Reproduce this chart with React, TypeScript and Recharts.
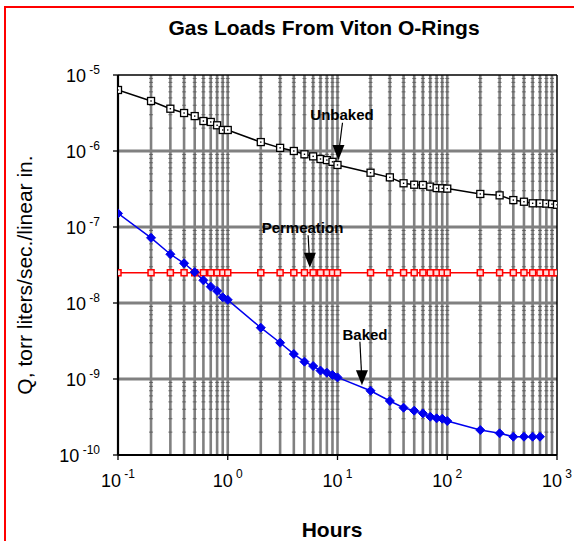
import { LineChart, Line, XAxis, YAxis, ReferenceLine, ReferenceDot } from 'recharts';

const hours = [
  0.1, 0.2, 0.3, 0.4, 0.5, 0.6, 0.7, 0.8, 0.9,
  1, 2, 3, 4, 5, 6, 7, 8, 9,
  10, 20, 30, 40, 50, 60, 70, 80, 90,
  100, 200, 300, 400, 500, 600, 700, 800, 900, 1000,
];

const unbaked = [
  6.35e-6, 4.55e-6, 3.6e-6, 3.16e-6, 2.88e-6, 2.48e-6, 2.41e-6, 2.18e-6, 1.89e-6,
  1.89e-6, 1.31e-6, 1.1e-6, 1.0e-6, 9.05e-7, 8.5e-7, 7.85e-7, 7.6e-7, 7.2e-7,
  6.55e-7, 5.18e-7, 4.5e-7, 3.76e-7, 3.6e-7, 3.57e-7, 3.4e-7, 3.25e-7, 3.23e-7,
  3.2e-7, 2.72e-7, 2.61e-7, 2.26e-7, 2.15e-7, 2.05e-7, 2.05e-7, 2.03e-7, 2.0e-7, 1.96e-7,
];

const permeation = [
  2.5e-8, 2.5e-8, 2.5e-8, 2.5e-8, 2.5e-8, 2.5e-8, 2.5e-8, 2.5e-8, 2.5e-8,
  2.5e-8, 2.5e-8, 2.5e-8, 2.5e-8, 2.5e-8, 2.5e-8, 2.5e-8, 2.5e-8, 2.5e-8,
  2.5e-8, 2.5e-8, 2.5e-8, 2.5e-8, 2.5e-8, 2.5e-8, 2.5e-8, 2.5e-8, 2.5e-8,
  2.5e-8, 2.5e-8, 2.5e-8, 2.5e-8, 2.5e-8, 2.5e-8, 2.5e-8, 2.5e-8, 2.5e-8, 2.5e-8,
];

// baked run stops at 700 h
const baked = [
  1.51e-7, 7.2e-8, 4.38e-8, 3.33e-8, 2.55e-8, 1.99e-8, 1.64e-8, 1.44e-8, 1.19e-8,
  1.1e-8, 4.73e-9, 3.0e-9, 2.13e-9, 1.69e-9, 1.48e-9, 1.29e-9, 1.21e-9, 1.13e-9,
  1.05e-9, 7.0e-10, 5.14e-10, 4.19e-10, 3.83e-10, 3.53e-10, 3.19e-10, 3.04e-10, 3.0e-10,
  2.8e-10, 2.13e-10, 1.93e-10, 1.74e-10, 1.74e-10, 1.74e-10, 1.74e-10,
];

const xTicks = [0.1, 1, 10, 100, 1000];
const yTicks = [1e-10, 1e-9, 1e-8, 1e-7, 1e-6, 1e-5];
const xGrid = [
  0.2, 0.3, 0.4, 0.5, 0.6, 0.7, 0.8, 0.9, 1,
  2, 3, 4, 5, 6, 7, 8, 9, 10,
  20, 30, 40, 50, 60, 70, 80, 90, 100,
  200, 300, 400, 500, 600, 700, 800, 900,
];
const yGrid = [1e-9, 1e-8, 1e-7, 1e-6];
const yMinor = [
  2e-10, 3e-10, 4e-10, 5e-10, 6e-10, 7e-10, 8e-10, 9e-10,
  2e-9, 3e-9, 4e-9, 5e-9, 6e-9, 7e-9, 8e-9, 9e-9,
  2e-8, 3e-8, 4e-8, 5e-8, 6e-8, 7e-8, 8e-8, 9e-8,
  2e-7, 3e-7, 4e-7, 5e-7, 6e-7, 7e-7, 8e-7, 9e-7,
  2e-6, 3e-6, 4e-6, 5e-6, 6e-6, 7e-6, 8e-6, 9e-6,
];

const data = hours.map((h, i) => ({
  h,
  unbaked: unbaked[i],
  permeation: permeation[i],
  baked: i < baked.length ? baked[i] : null,
}));

const FONT = 'Arial, "Liberation Sans", sans-serif';

const expOf = (v: number) => Math.round(Math.log10(v));

const XTick = (props: any) => {
  const { x, y, payload } = props;
  return (
    <text x={x} y={y + 25} textAnchor="middle" fontFamily={FONT} fontSize={18} fill="#000">
      <tspan>10</tspan>
      <tspan dy={-9} fontSize={12}>{' ' + expOf(payload.value)}</tspan>
    </text>
  );
};

const YTick = (props: any) => {
  const { x, y, payload } = props;
  return (
    <text x={x - 11} y={y + 7} textAnchor="end" fontFamily={FONT} fontSize={18} fill="#000">
      <tspan>10</tspan>
      <tspan dy={-8} fontSize={12}>{' ' + expOf(payload.value)}</tspan>
    </text>
  );
};

const squareDot = (props: any) => {
  const { cx, cy, index } = props;
  if (cx == null || cy == null) return <g key={`u${index}`} />;
  return (
    <g key={`u${index}`}>
      <rect x={cx - 3.5} y={cy - 3.5} width={7} height={7} fill="#fff" stroke="#000" strokeWidth={1.3} />
      <rect x={cx - 0.7} y={cy - 0.7} width={1.4} height={1.4} fill="#000" />
    </g>
  );
};

const redDot = (props: any) => {
  const { cx, cy, index } = props;
  if (cx == null || cy == null) return <g key={`p${index}`} />;
  return (
    <rect key={`p${index}`} x={cx - 3} y={cy - 3} width={6} height={6} fill="#ffdada" stroke="#ff0000" strokeWidth={1.5} />
  );
};

const diamondDot = (props: any) => {
  const { cx, cy, index } = props;
  if (cx == null || cy == null) return <g key={`b${index}`} />;
  return (
    <polygon
      key={`b${index}`}
      points={`${cx},${cy - 4.5} ${cx + 4.5},${cy} ${cx},${cy + 4.5} ${cx - 4.5},${cy}`}
      fill="#0000ee"
      stroke="#0000ee"
    />
  );
};

const minorDash = (p: any) => (
  <line x1={p.cx - 2} y1={p.cy} x2={p.cx + 2} y2={p.cy} stroke="#555" strokeWidth={0.8} />
);

const noteText = (label: string) => (p: any) => (
  <text x={p.cx} y={p.cy + 5} textAnchor="middle" fontFamily={FONT} fontSize={15} fontWeight="bold" fill="#000">
    {label}
  </text>
);

const arrowHead = (p: any) => (
  <polygon points={`${p.cx},${p.cy} ${p.cx - 6},${p.cy - 15} ${p.cx + 6},${p.cy - 15}`} fill="#000" />
);

export default function App() {
  return (
    <div style={{ position: 'absolute', left: 0, top: 0, width: 574, height: 541, background: '#fff', overflow: 'hidden' }}>
      <div
        style={{
          position: 'absolute', left: 4, top: 6, width: 700, height: 700,
          borderTop: '2px solid #ff0000', borderLeft: '2px solid #ff0000',
        }}
      />
      <div
        style={{
          position: 'absolute', left: 0, width: 648, top: 16, textAlign: 'center',
          fontFamily: FONT, fontWeight: 'bold', fontSize: 21, lineHeight: '24px',
        }}
      >
        Gas Loads From Viton O-Rings
      </div>
      <div
        style={{
          position: 'absolute', left: 0, width: 664, top: 518, textAlign: 'center',
          fontFamily: FONT, fontWeight: 'bold', fontSize: 21, lineHeight: '24px',
        }}
      >
        Hours
      </div>
      <div style={{ position: 'absolute', left: 25, top: 275, width: 0, height: 0 }}>
        <div
          style={{
            position: 'absolute', left: -200, top: -12, width: 400, textAlign: 'center',
            transform: 'rotate(-90deg)', fontFamily: FONT, fontSize: 21, lineHeight: '24px',
            whiteSpace: 'nowrap',
          }}
        >
          Q, torr liters/sec./linear in.
        </div>
      </div>
      <div style={{ position: 'absolute', left: 0, top: 0 }}>
        <LineChart width={574} height={541} data={data} margin={{ top: 75, right: 17, bottom: 56, left: 58 }}>
          <XAxis
            dataKey="h"
            type="number"
            scale="log"
            domain={[0.1, 1000]}
            ticks={xTicks}
            interval={0}
            allowDataOverflow
            height={30}
            tickSize={5}
            tick={<XTick />}
            axisLine={false}
            tickLine={{ stroke: '#000', strokeWidth: 1.3 }}
          />
          <YAxis
            type="number"
            scale="log"
            domain={[1e-10, 1e-5]}
            ticks={yTicks}
            interval={0}
            allowDataOverflow
            width={60}
            tickSize={5}
            tick={<YTick />}
            axisLine={false}
            tickLine={{ stroke: '#000', strokeWidth: 1.3 }}
          />
          {xGrid.map((v) => (
            <ReferenceLine key={`gx${v}`} x={v} stroke="#808080" strokeWidth={2.6} />
          ))}
          {yGrid.map((v) => (
            <ReferenceLine key={`gy${v}`} y={v} stroke="#808080" strokeWidth={3} />
          ))}
          {xGrid.map((xv) =>
            yMinor.map((yv) => (
              <ReferenceDot key={`m${xv}-${yv}`} x={xv} y={yv} r={1} shape={minorDash} />
            ))
          )}
          <ReferenceLine x={1000} stroke="#000" strokeWidth={1.5} />
          <ReferenceLine y={1e-5} stroke="#000" strokeWidth={1.5} />
          <ReferenceLine x={0.1} stroke="#000" strokeWidth={2.2} />
          <ReferenceLine y={1e-10} stroke="#000" strokeWidth={2.2} />

          <Line dataKey="permeation" stroke="#ff0000" strokeWidth={1.5} dot={redDot} isAnimationActive={false} />
          <Line dataKey="baked" stroke="#0000ee" strokeWidth={1.5} dot={diamondDot} isAnimationActive={false} />
          <Line dataKey="unbaked" stroke="#000" strokeWidth={1.5} dot={squareDot} isAnimationActive={false} />

          <ReferenceDot x={11} y={3.0e-6} r={1} shape={noteText('Unbaked')} />
          <ReferenceLine segment={[{ x: 11.1, y: 2.35e-6 }, { x: 10.3, y: 1.0e-6 }]} stroke="#000" strokeWidth={1.2} />
          <ReferenceDot x={10.2} y={7.6e-7} r={1} shape={arrowHead} />

          <ReferenceDot x={4.8} y={9.7e-8} r={1} shape={noteText('Permeation')} />
          <ReferenceLine segment={[{ x: 5.4, y: 7.8e-8 }, { x: 5.55, y: 3.8e-8 }]} stroke="#000" strokeWidth={1.2} />
          <ReferenceDot x={5.6} y={2.9e-8} r={1} shape={arrowHead} />

          <ReferenceDot x={17.8} y={3.8e-9} r={1} shape={noteText('Baked')} />
          <ReferenceLine segment={[{ x: 16, y: 3.1e-9 }, { x: 16.6, y: 1.1e-9 }]} stroke="#000" strokeWidth={1.2} />
          <ReferenceDot x={16.7} y={8.3e-10} r={1} shape={arrowHead} />
        </LineChart>
      </div>
    </div>
  );
}
